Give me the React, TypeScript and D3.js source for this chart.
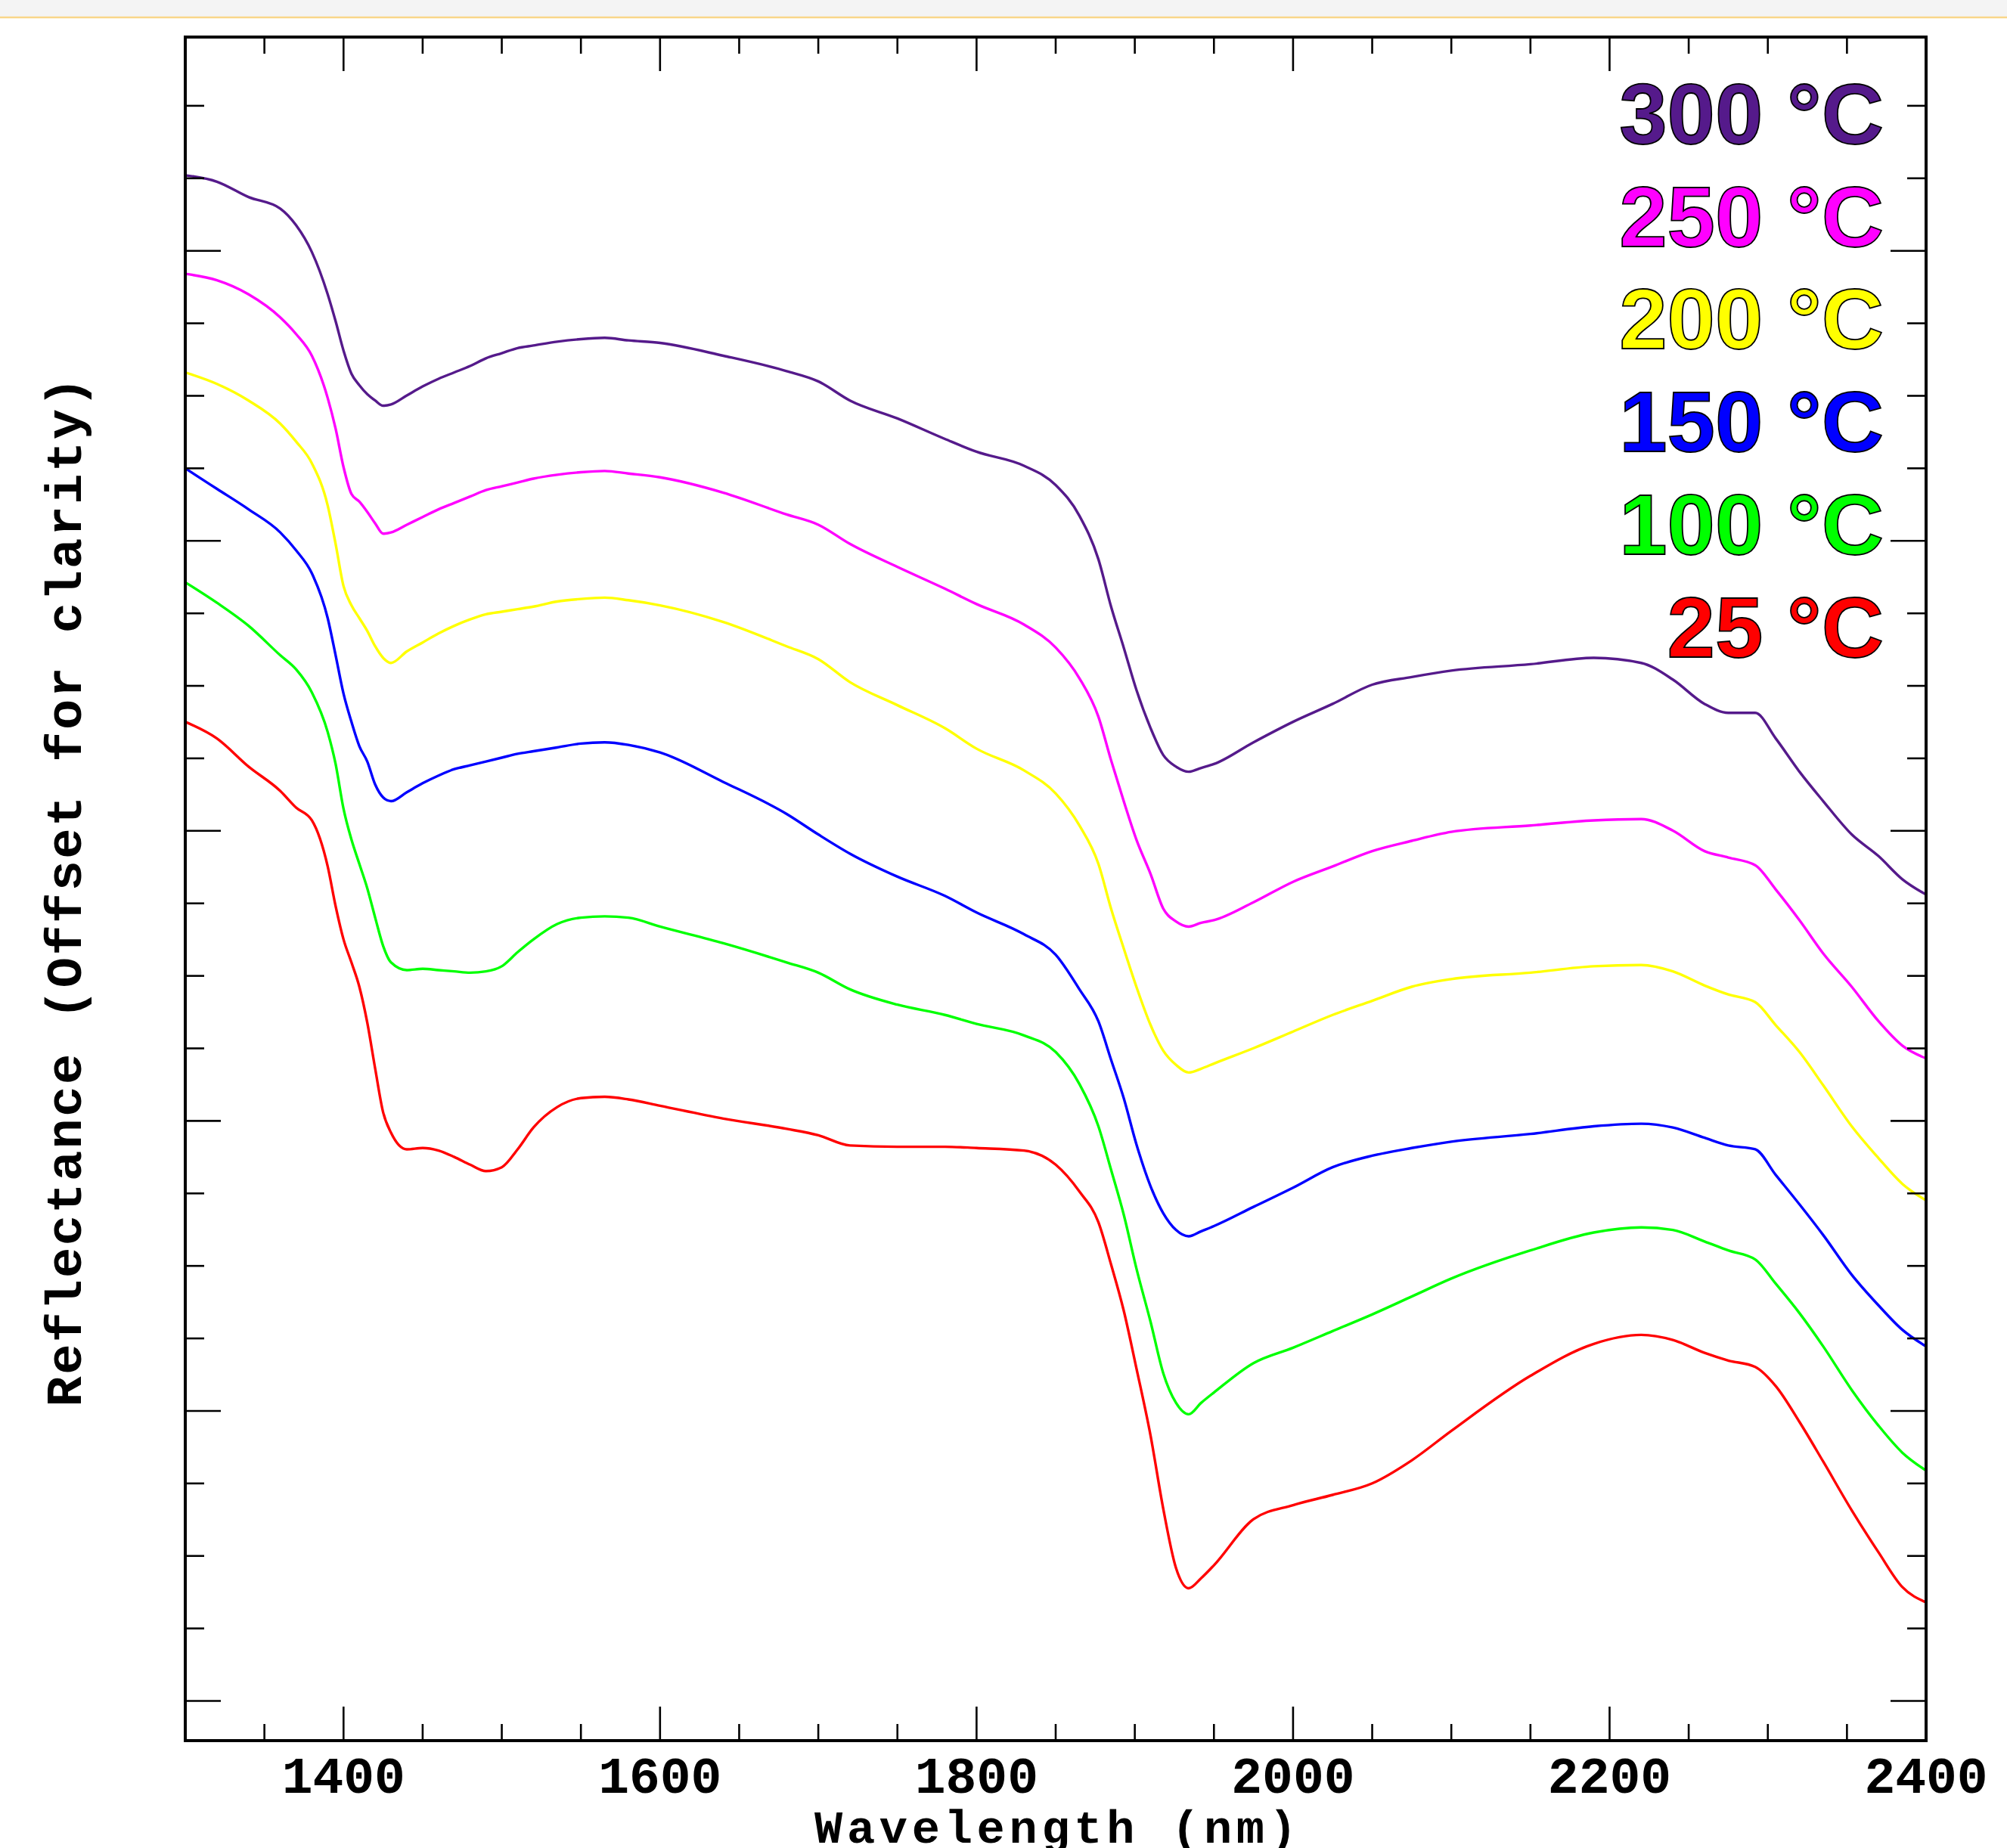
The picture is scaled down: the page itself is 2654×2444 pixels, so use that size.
import React from 'react';
import * as d3 from 'd3';

// wavelength grid (nm) shared by all spectra
const wavelengths = [
  1300, 1320, 1340, 1360, 1370, 1380, 1390, 1395, 1400, 1405, 1410, 1415, 1420, 1425, 1430,
  1440, 1450, 1460, 1470, 1480, 1490, 1500, 1510, 1520, 1535, 1550, 1565, 1580, 1600,
  1640, 1680, 1700, 1720, 1750, 1780, 1800, 1830,
  1850, 1865, 1877, 1885, 1893, 1901, 1910, 1918, 1926, 1934, 1942, 1950,
  1975, 2000, 2025, 2050, 2075, 2100, 2150, 2190, 2220, 2240,
  2260, 2275, 2292, 2305, 2320, 2335, 2353, 2370, 2385, 2400,
];

// reflectance, offset for clarity (arbitrary units)
const refl300 = [
  1.223, 1.218, 1.206, 1.197, 1.184, 1.163, 1.130, 1.109, 1.086, 1.068, 1.059, 1.052, 1.047, 1.043, 1.044,
  1.051, 1.058, 1.064, 1.069, 1.074, 1.080, 1.084, 1.088, 1.090, 1.093, 1.095, 1.096, 1.094, 1.092,
  1.082, 1.070, 1.062, 1.047, 1.033, 1.017, 1.007, 0.996,
  0.981, 0.957, 0.923, 0.886, 0.854, 0.821, 0.791, 0.770, 0.761, 0.757, 0.760, 0.763,
  0.780, 0.796, 0.810, 0.825, 0.831, 0.836, 0.841, 0.846, 0.842, 0.829,
  0.810, 0.803, 0.803, 0.783, 0.757, 0.734, 0.708, 0.691, 0.673, 0.661,
];
const refl250 = [
  1.146, 1.141, 1.130, 1.112, 1.099, 1.082, 1.049, 1.025, 0.995, 0.974, 0.968, 0.960, 0.951, 0.943, 0.944,
  0.950, 0.956, 0.962, 0.967, 0.972, 0.977, 0.980, 0.983, 0.986, 0.989, 0.991, 0.992, 0.990, 0.987,
  0.975, 0.958, 0.950, 0.935, 0.917, 0.900, 0.888, 0.872,
  0.854, 0.830, 0.800, 0.766, 0.734, 0.704, 0.677, 0.650, 0.640, 0.636, 0.639, 0.641,
  0.655, 0.671, 0.683, 0.695, 0.703, 0.710, 0.715, 0.719, 0.720, 0.711,
  0.695, 0.690, 0.684, 0.665, 0.641, 0.615, 0.589, 0.562, 0.543, 0.533,
];
const refl200 = [
  1.069, 1.060, 1.047, 1.029, 1.015, 0.998, 0.965, 0.935, 0.902, 0.887, 0.877, 0.867, 0.855, 0.846, 0.842,
  0.851, 0.858, 0.865, 0.871, 0.876, 0.880, 0.882, 0.884, 0.886, 0.890, 0.892, 0.893, 0.891, 0.887,
  0.874, 0.855, 0.845, 0.827, 0.809, 0.791, 0.775, 0.758,
  0.740, 0.715, 0.685, 0.650, 0.619, 0.589, 0.559, 0.539, 0.528, 0.522, 0.525, 0.529,
  0.541, 0.554, 0.567, 0.578, 0.589, 0.595, 0.600, 0.605, 0.606, 0.601,
  0.590, 0.583, 0.577, 0.559, 0.538, 0.512, 0.480, 0.455, 0.435, 0.422,
];
const refl150 = [
  0.994, 0.978, 0.962, 0.944, 0.930, 0.912, 0.877, 0.848, 0.818, 0.796, 0.777, 0.765, 0.747, 0.737, 0.734,
  0.741, 0.748, 0.754, 0.759, 0.762, 0.765, 0.768, 0.771, 0.773, 0.776, 0.779, 0.780, 0.778, 0.772,
  0.749, 0.724, 0.708, 0.693, 0.675, 0.660, 0.647, 0.630,
  0.614, 0.587, 0.562, 0.532, 0.502, 0.466, 0.433, 0.412, 0.399, 0.394, 0.398, 0.402,
  0.417, 0.432, 0.448, 0.457, 0.463, 0.468, 0.474, 0.480, 0.482, 0.479,
  0.471, 0.465, 0.462, 0.442, 0.419, 0.395, 0.364, 0.340, 0.321, 0.308,
];
const refl100 = [
  0.905, 0.889, 0.871, 0.848, 0.837, 0.819, 0.788, 0.763, 0.728, 0.704, 0.685, 0.666, 0.643, 0.621, 0.608,
  0.602, 0.603, 0.602, 0.601, 0.600, 0.601, 0.605, 0.616, 0.626, 0.638, 0.643, 0.644, 0.643, 0.636,
  0.623, 0.608, 0.600, 0.587, 0.575, 0.567, 0.560, 0.551,
  0.538, 0.513, 0.480, 0.446, 0.411, 0.369, 0.327, 0.287, 0.264, 0.255, 0.264, 0.272,
  0.295, 0.307, 0.320, 0.333, 0.347, 0.361, 0.383, 0.397, 0.401, 0.399,
  0.390, 0.383, 0.376, 0.357, 0.334, 0.308, 0.274, 0.246, 0.225, 0.211,
];
const refl25 = [
  0.796, 0.783, 0.761, 0.742, 0.729, 0.719, 0.683, 0.652, 0.626, 0.608, 0.589, 0.561, 0.525, 0.491, 0.475,
  0.462, 0.463, 0.461, 0.456, 0.450, 0.445, 0.448, 0.462, 0.479, 0.495, 0.502, 0.503, 0.501, 0.496,
  0.486, 0.478, 0.473, 0.465, 0.464, 0.464, 0.463, 0.461,
  0.450, 0.429, 0.405, 0.372, 0.336, 0.291, 0.238, 0.181, 0.135, 0.119, 0.127, 0.137,
  0.173, 0.184, 0.192, 0.201, 0.219, 0.242, 0.285, 0.310, 0.317, 0.313,
  0.303, 0.297, 0.292, 0.277, 0.249, 0.218, 0.180, 0.147, 0.120, 0.108,
];

const seriesLabels = ['300 °C', '250 °C', '200 °C', '150 °C', '100 °C', '25 °C'];
const seriesColors = ['#551a8b', '#ff00ff', '#ffff00', '#0000ff', '#00ff00', '#ff0000'];
const seriesValues = [refl300, refl250, refl200, refl150, refl100, refl25];

const xMajorTicks = [1400, 1600, 1800, 2000, 2200, 2400];
const xTickLabels = ['1400', '1600', '1800', '2000', '2200', '2400'];

const width = 2654, height = 2444;
const plot = { left: 245, right: 2547, top: 49, bottom: 2302 };
const mono = '"Liberation Mono", "DejaVu Sans Mono", monospace';

export default function App() {
  const x = d3.scaleLinear().domain([1300, 2400]).range([plot.left, plot.right]);
  const y = d3.scaleLinear().domain([0, 1.331]).range([plot.bottom, plot.top]);

  const line = d3.line<number>()
    .x((_, i) => x(wavelengths[i]))
    .y(d => y(d))
    .curve(d3.curveMonotoneX);

  const xMinor = d3.range(1350, 2400, 50).filter(v => !xMajorTicks.includes(v));
  // unlabelled y ticks, every 4th one is long
  const yTicks = d3.range(0, 23).map(k => 0.031 + k * 0.05665);

  return (
    <svg width={width} height={height} style={{ position: 'absolute', left: 0, top: 0, background: '#fff' }}>
      <rect x={0} y={0} width={width} height={22} fill="#f4f4f4" />
      <line x1={0} x2={width} y1={23} y2={23} stroke="#f9d68a" strokeWidth={2.5} />

      {seriesValues.map((vals, i) => (
        <path key={seriesLabels[i]} d={line(vals) || ''} fill="none"
          stroke={seriesColors[i]} strokeWidth={3.4} strokeLinejoin="round" />
      ))}

      <g stroke="#000" strokeWidth={2.6}>
        {xMajorTicks.map(v => (
          <g key={'M' + v}>
            <line x1={x(v)} x2={x(v)} y1={plot.bottom} y2={plot.bottom - 45} />
            <line x1={x(v)} x2={x(v)} y1={plot.top} y2={plot.top + 45} />
          </g>
        ))}
        {xMinor.map(v => (
          <g key={'m' + v}>
            <line x1={x(v)} x2={x(v)} y1={plot.bottom} y2={plot.bottom - 22} />
            <line x1={x(v)} x2={x(v)} y1={plot.top} y2={plot.top + 22} />
          </g>
        ))}
        {yTicks.map((v, k) => {
          const len = k % 4 === 0 ? 47 : 25;
          return (
            <g key={'y' + k}>
              <line x1={plot.left} x2={plot.left + len} y1={y(v)} y2={y(v)} />
              <line x1={plot.right} x2={plot.right - len} y1={y(v)} y2={y(v)} />
            </g>
          );
        })}
      </g>

      <rect x={plot.left} y={plot.top} width={plot.right - plot.left} height={plot.bottom - plot.top}
        fill="none" stroke="#000" strokeWidth={4} />

      {xMajorTicks.map((v, i) => (
        <text key={'l' + v} x={x(v)} y={2371} textAnchor="middle" fontFamily={mono}
          fontWeight="bold" fontSize={68} fill="#000">{xTickLabels[i]}</text>
      ))}

      <text x={(plot.left + plot.right) / 2} y={2437} textAnchor="middle" fontFamily={mono}
        fontWeight="bold" fontSize={62} textLength={638} lengthAdjust="spacing" fill="#000">
        Wavelength (nm)
      </text>

      <text transform={`translate(107, ${(plot.top + plot.bottom) / 2 + 4}) rotate(-90)`} textAnchor="middle"
        fontFamily={mono} fontWeight="bold" fontSize={67} textLength={1362} lengthAdjust="spacing" fill="#000">
        Reflectance (Offset for clarity)
      </text>

      {seriesLabels.map((lab, i) => (
        <text key={'t' + lab} x={2491} y={190 + i * 135.7} textAnchor="end"
          fontFamily='"Liberation Sans", Arial, sans-serif' fontWeight="bold" fontSize={114}
          fill={seriesColors[i]} stroke="#000" strokeWidth={1.8}>
          {lab}
        </text>
      ))}
    </svg>
  );
}
